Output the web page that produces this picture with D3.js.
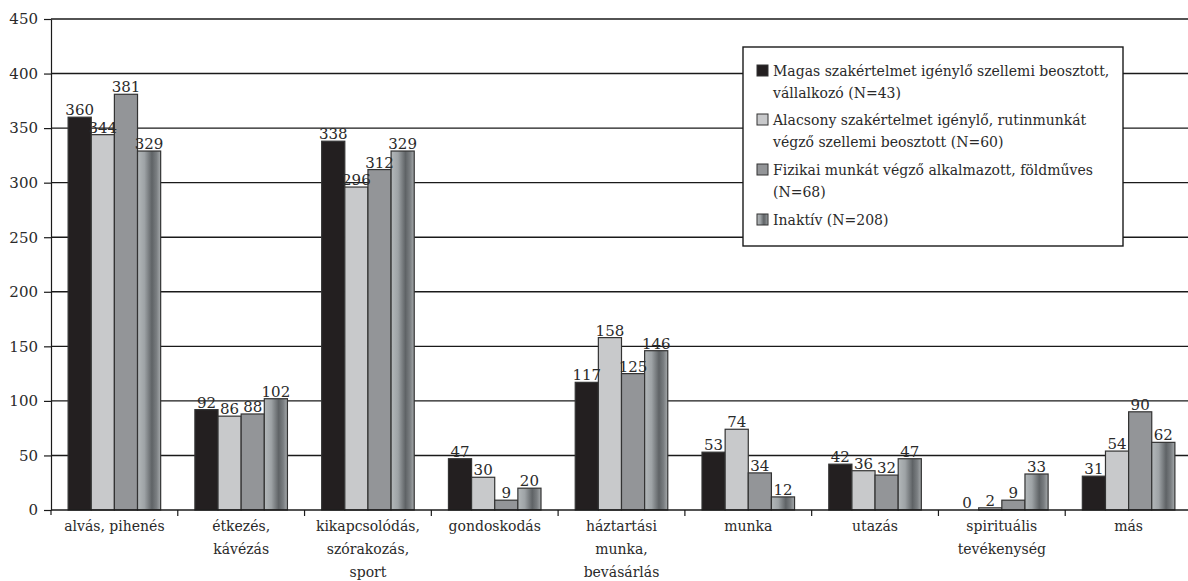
<!DOCTYPE html>
<html lang="hu">
  <head>
    <meta charset="utf-8">
    <script src="https://d3js.org/d3.v7.min.js"></script>
    <style type="text/css">
body {
  margin: 0;
  background: white;
}
svg text {
  font-family: "DejaVu Serif", serif;
  fill: #2a2a2a;
}
    </style>
  </head>
  <body>
    <div id="chart"></div>
    <script type="text/javascript">
const categories = [
  ["alvás, pihenés"],
  ["étkezés,", "kávézás"],
  ["kikapcsolódás,", "szórakozás,", "sport"],
  ["gondoskodás"],
  ["háztartási", "munka,", "bevásárlás"],
  ["munka"],
  ["utazás"],
  ["spirituális", "tevékenység"],
  ["más"]
];
const seriesNames = [
  ["Magas szakértelmet igénylő szellemi beosztott,", "vállalkozó (N=43)"],
  ["Alacsony szakértelmet igénylő, rutinmunkát", "végző szellemi beosztott (N=60)"],
  ["Fizikai munkát végző alkalmazott, földműves", "(N=68)"],
  ["Inaktív (N=208)"]
];
const magas   = [360, 92, 338, 47, 117, 53, 42, 0, 31];
const alacsony = [344, 86, 296, 30, 158, 74, 36, 2, 54];
const fizikai = [381, 88, 312, 9, 125, 34, 32, 9, 90];
const inaktiv = [329, 102, 329, 20, 146, 12, 47, 33, 62];
const yTicks = [0, 50, 100, 150, 200, 250, 300, 350, 400, 450];

const width = 1188, height = 581;
const margin = {top: 19, right: -4, bottom: 71, left: 51};
const fills = ["#231f20", "#c8c9cb", "#939598", "url(#inaktivGrad)"];

const values = [magas, alacsony, fizikai, inaktiv];
const keys = d3.range(values.length);
const data = categories.map((c, i) => ({i: i, vals: values.map(v => v[i])}));

const svg = d3.select("#chart").append("svg")
  .attr("width", width)
  .attr("height", height);

const grad = svg.append("defs").append("linearGradient")
  .attr("id", "inaktivGrad")
  .attr("x1", "0%").attr("x2", "100%").attr("y1", "0%").attr("y2", "0%");
[["0%", "#b3b8ba"], ["30%", "#9ea3a6"], ["62%", "#5f6366"], ["82%", "#7a7e81"], ["100%", "#a7abad"]]
  .forEach(s => grad.append("stop").attr("offset", s[0]).attr("stop-color", s[1]));

const x0 = d3.scaleBand()
  .domain(d3.range(categories.length))
  .range([margin.left, width - margin.right])
  .paddingInner(0.27)
  .paddingOuter(0.135);

const x1 = d3.scaleBand()
  .domain(keys)
  .range([0, x0.bandwidth()]);

const y = d3.scaleLinear()
  .domain([0, 450])
  .range([height - margin.bottom, margin.top]);

// gridlines
svg.append("g")
  .selectAll("line")
  .data(yTicks.filter(t => t > 0))
  .join("line")
    .attr("x1", margin.left)
    .attr("x2", width)
    .attr("y1", d => y(d))
    .attr("y2", d => y(d))
    .attr("stroke", "#1a1a1a")
    .attr("stroke-width", 1.4);

// y axis
const yAxis = svg.append("g")
  .attr("transform", `translate(${margin.left},0)`)
  .call(d3.axisLeft(y).tickValues(yTicks).tickSize(7).tickSizeOuter(0).tickPadding(6));
yAxis.select(".domain").attr("stroke", "#1a1a1a").attr("stroke-width", 1.2);
yAxis.selectAll(".tick line").attr("stroke", "#1a1a1a").attr("stroke-width", 1.2);
yAxis.selectAll(".tick text")
  .attr("font-size", 15)
  .attr("font-family", "DejaVu Serif")
  .attr("fill", "#2a2a2a");

// bars
const groups = svg.append("g")
  .selectAll("g")
  .data(data)
  .join("g")
    .attr("transform", d => `translate(${x0(d.i)},0)`);

groups.selectAll("rect")
  .data(d => d.vals.map((v, k) => ({k: k, v: v})))
  .join("rect")
    .attr("x", d => x1(d.k))
    .attr("y", d => y(d.v))
    .attr("width", x1.bandwidth())
    .attr("height", d => y(0) - y(d.v))
    .attr("fill", d => fills[d.k])
    .attr("stroke", "#333")
    .attr("stroke-width", d => d.v > 0 ? 1.2 : 0);

groups.selectAll("text")
  .data(d => d.vals.map((v, k) => ({k: k, v: v})))
  .join("text")
    .attr("x", d => x1(d.k) + x1.bandwidth() / 2)
    .attr("y", d => y(d.v) - 2)
    .attr("text-anchor", "middle")
    .attr("font-size", 15)
    .text(d => d.v);

// x axis
const xAxisY = y(0);
svg.append("line")
  .attr("x1", margin.left).attr("x2", width)
  .attr("y1", xAxisY).attr("y2", xAxisY)
  .attr("stroke", "#1a1a1a").attr("stroke-width", 1.4);
svg.append("line")
  .attr("x1", margin.left).attr("x2", margin.left)
  .attr("y1", xAxisY).attr("y2", xAxisY + 5)
  .attr("stroke", "#1a1a1a").attr("stroke-width", 1.2);
svg.append("g")
  .selectAll("line")
  .data(d3.range(1, categories.length))
  .join("line")
    .attr("x1", d => x0(d) - x0.step() * x0.paddingInner() / 2)
    .attr("x2", d => x0(d) - x0.step() * x0.paddingInner() / 2)
    .attr("y1", xAxisY)
    .attr("y2", xAxisY + 6)
    .attr("stroke", "#1a1a1a")
    .attr("stroke-width", 1.2);

svg.append("g")
  .selectAll("text")
  .data(data)
  .join("text")
    .attr("x", d => x0(d.i) + x0.bandwidth() / 2)
    .attr("y", xAxisY + 21)
    .attr("text-anchor", "middle")
    .attr("font-size", 14)
    .each(function (d) {
      const t = d3.select(this);
      categories[d.i].forEach((line, j) => {
        t.append("tspan")
          .attr("x", x0(d.i) + x0.bandwidth() / 2)
          .attr("dy", j === 0 ? 0 : 23)
          .text(line);
      });
    });

// legend
const legend = svg.append("g");
legend.append("rect")
  .attr("x", 743).attr("y", 47)
  .attr("width", 380).attr("height", 199)
  .attr("fill", "white")
  .attr("stroke", "#1a1a1a")
  .attr("stroke-width", 1.4);

const legendTop = [76, 125, 175, 225];
seriesNames.forEach((lines, k) => {
  legend.append("rect")
    .attr("x", 757).attr("y", legendTop[k] - 11)
    .attr("width", 11).attr("height", 11)
    .attr("fill", fills[k])
    .attr("stroke", "#333")
    .attr("stroke-width", 1);
  const t = legend.append("text")
    .attr("x", 773)
    .attr("y", legendTop[k])
    .attr("font-size", 14);
  lines.forEach((line, j) => {
    t.append("tspan")
      .attr("x", 773)
      .attr("dy", j === 0 ? 0 : 22)
      .text(line);
  });
});
    </script>
  </body>
</html>
